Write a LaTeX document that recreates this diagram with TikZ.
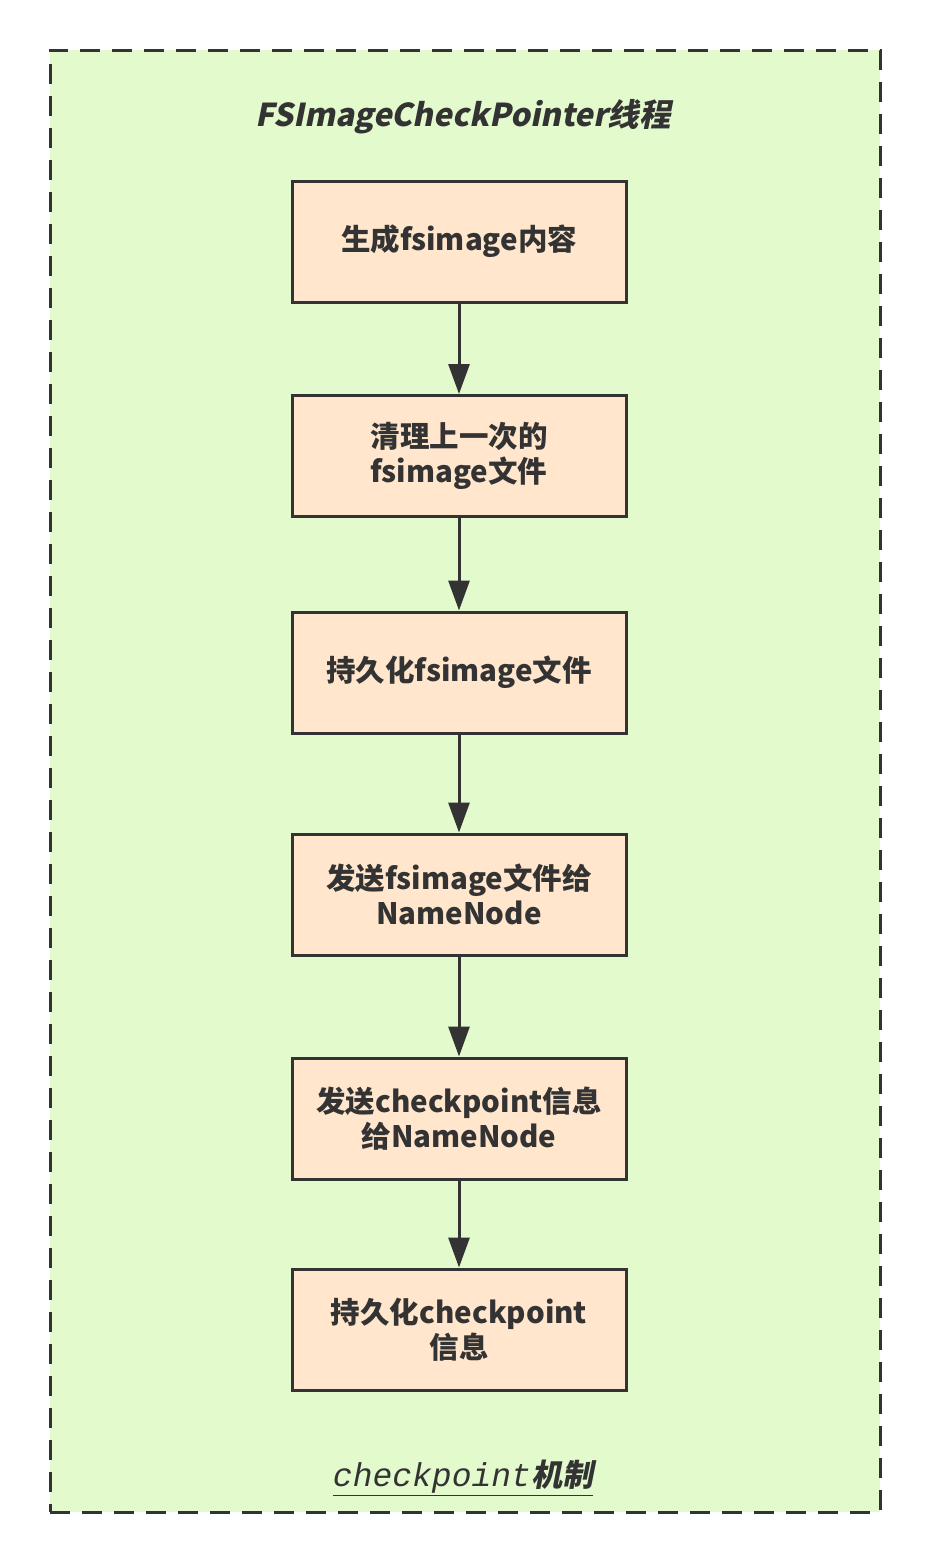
\documentclass[tikz,border=0pt]{standalone}
\usepackage{fontspec}
\usetikzlibrary{arrows.meta}
\newfontfamily\cjk{Noto Sans CJK SC}
\newfontfamily\cjksl{Noto Sans CJK SC}[FakeSlant=0.2]
\newfontfamily\monoit{Liberation Mono}
\definecolor{bgfill}{HTML}{E3FACD}
\definecolor{boxfill}{HTML}{FFE6CC}
\definecolor{ink}{HTML}{333333}
\tikzset{
  stepbox/.style={draw=ink, line width=3pt, fill=boxfill, minimum width=334pt, minimum height=121pt,
    text=ink, align=center, font=\cjk\bfseries\fontsize{29.5}{35}\selectfont, inner sep=0pt},
  flow/.style={draw=ink, line width=3pt, -{Triangle[length=30pt,width=21pt]}},
}
\begin{document}
\begin{tikzpicture}[x=1pt,y=-1pt]
\useasboundingbox (0,0) rectangle (930,1564);
\fill[white] (0,0) rectangle (930,1564);
\node[draw=ink, fill=bgfill, line width=3pt, dash pattern=on 20pt off 12pt, minimum width=830pt, minimum height=1462pt, inner sep=0pt] (frame) at (465,781) {};
\node[text=ink, font=\cjksl\bfseries\fontsize{31.5}{36}\selectfont] (title) at (463,117) {FSImageCheckPointer线程};
\node[stepbox] (b1) at (459,241.5) {生成fsimage内容};
\node[stepbox] (b2) at (459,456) {清理上一次的\\fsimage文件};
\node[stepbox] (b3) at (459,672.5) {持久化fsimage文件};
\node[stepbox] (b4) at (459,894.5) {发送fsimage文件给\\NameNode};
\node[stepbox] (b5) at (459,1118.5) {发送checkpoint信息\\给NameNode};
\node[stepbox] (b6) at (459,1329.5) {持久化checkpoint\\信息};
\draw[flow] (b1) -- (b2);
\draw[flow] (b2) -- (b3);
\draw[flow] (b3) -- (b4);
\draw[flow] (b4) -- (b5);
\draw[flow] (b5) -- (b6);
\node[text=ink] (foot) at (463,1478) {\underline{\monoit\itshape\fontsize{33}{36}\selectfont checkpoint{\cjksl\bfseries\fontsize{31}{36}\selectfont 机制}}};
\end{tikzpicture}
\end{document}
